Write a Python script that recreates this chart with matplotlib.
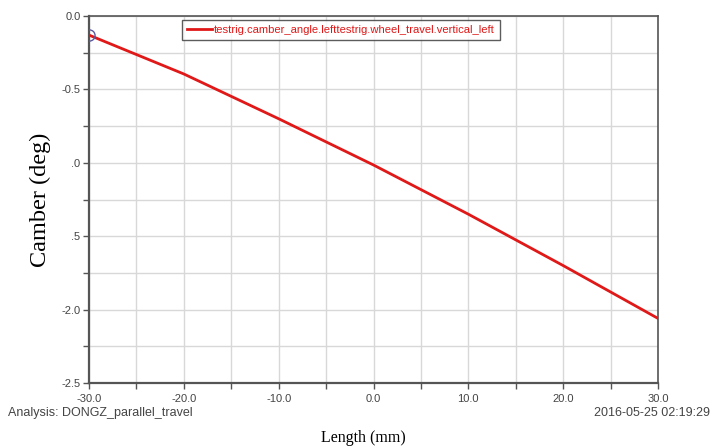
import matplotlib
matplotlib.use('Agg')
import matplotlib.pyplot as plt
from matplotlib.ticker import MultipleLocator

# wheel travel (mm) and camber angle (deg)
travel = [-30, -20, -10, 0, 10, 20, 30]
camber = [-0.13, -0.395, -0.70, -1.015, -1.35, -1.70, -2.06]

x_ticks = [-30, -20, -10, 0, 10, 20, 30]
x_labels = ['-30.0', '-20.0', '-10.0', '0.0', '10.0', '20.0', '30.0']
y_ticks = [0.0, -0.5, -1.0, -1.5, -2.0, -2.5]
y_labels = ['0.0', '-0.5', '-1.0', '-1.5', '-2.0', '-2.5']

series_name = 'testrig.camber_angle.lefttestrig.wheel_travel.vertical_left'

small = ['Liberation Sans Narrow', 'Liberation Sans', 'DejaVu Sans']
serif = ['Liberation Serif', 'DejaVu Serif']

fig = plt.figure(figsize=(7.13, 4.48), dpi=100)
ax = fig.add_axes([89 / 713, 1 - 383 / 448, 569 / 713, 367 / 448])

ax.plot(travel, camber, color='#e01818', lw=2.0, label=series_name, zorder=3)
ax.plot(travel[0], camber[0], 'o', mfc='none', mec='#5a5aa0', ms=8, mew=1.0, zorder=4)

ax.set_xlim(-30, 30)
ax.set_ylim(-2.5, 0.0)
ax.set_xticks(x_ticks)
ax.set_xticklabels(x_labels, family=small, fontsize=8, color='#444444')
ax.set_yticks(y_ticks)
ax.set_yticklabels(y_labels, family=small, fontsize=8, color='#444444')
ax.xaxis.set_minor_locator(MultipleLocator(5))
ax.yaxis.set_minor_locator(MultipleLocator(0.25))
ax.tick_params(which='both', direction='out', color='#555555', length=4, width=1)
ax.tick_params(axis='x', pad=4)
ax.tick_params(axis='y', pad=2)

ax.grid(True, which='both', color='#d8d8d8', lw=1.0)
ax.set_axisbelow(True)
for side, sp in ax.spines.items():
    sp.set_color('#555555')
    sp.set_linewidth(1.6 if side in ('left', 'bottom') else 1.2)

leg = ax.legend(loc='upper center', bbox_to_anchor=(0.443, 1.005), frameon=True,
                fancybox=False, handlelength=2.2, handletextpad=0.2,
                borderpad=0.45, prop={'family': small, 'size': 8.1})
leg.get_frame().set_edgecolor('#333333')
leg.get_frame().set_linewidth(1.0)
for t in leg.get_texts():
    t.set_color('#e01818')

fig.text(8 / 713, 1 - 413 / 448, 'Analysis: DONGZ_parallel_travel', family=small,
         fontsize=9, color='#444444', ha='left', va='center')
fig.text(710 / 713, 1 - 413 / 448, '2016-05-25 02:19:29', family=small,
         fontsize=9, color='#444444', ha='right', va='center')
fig.text(363 / 713, 1 - 438 / 448, 'Length (mm)', family=serif, fontsize=11.5,
         ha='center', va='center')
# the label's white box hides the minus signs of -1.0 and -1.5, as in the reference
fig.text(40 / 713, 1 - 200 / 448, 'Camber (deg)', family=serif, fontsize=17.5,
         rotation=90, ha='center', va='center',
         bbox=dict(facecolor='white', edgecolor='none', pad=14.5))

fig.savefig('out.png', dpi=100)
